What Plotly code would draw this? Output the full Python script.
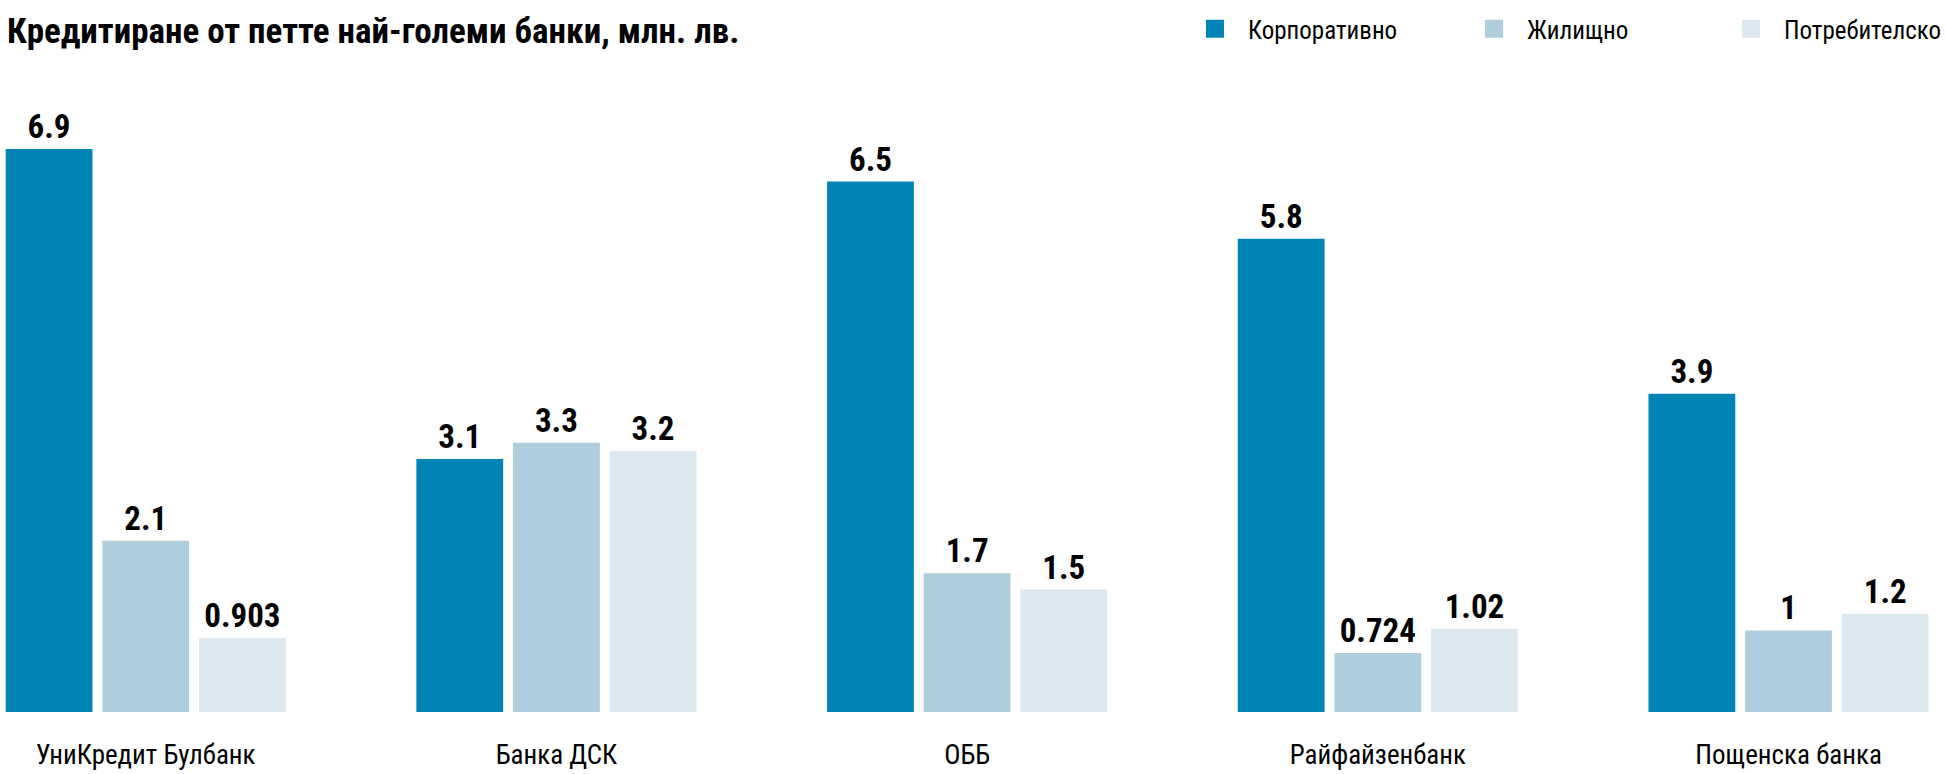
import plotly.graph_objects as go

banks = ["УниКредит Булбанк", "Банка ДСК", "ОББ", "Райфайзенбанк", "Пощенска банка"]
series_names = ["Корпоративно", "Жилищно", "Потребителско"]
corporate = [6.9, 3.1, 6.5, 5.8, 3.9]
housing = [2.1, 3.3, 1.7, 0.724, 1]
consumer = [0.903, 3.2, 1.5, 1.02, 1.2]
colors = ["#0084b5", "#aecddd", "#dbe8f0"]

FONT = "Roboto Condensed, Roboto, sans-serif"
W, H = 1945, 774

fig = go.Figure()
legend_ids = ["legend", "legend2", "legend3"]
for name, vals, col in zip(series_names, [corporate, housing, consumer], colors):
    fig.add_trace(go.Bar(
        x=banks, y=vals, name=name, marker=dict(color=col, line=dict(width=0)),
        text=[str(v) for v in vals], textposition="outside", cliponaxis=False,
        constraintext="none",
        textfont=dict(family=FONT, size=33, color="#000000", weight="bold"),
        showlegend=False,
    ))

# legend entries (square swatches)
for name, col, lg in zip(series_names, colors, legend_ids):
    fig.add_trace(go.Scatter(
        x=[None], y=[None], mode="markers", name=name, legend=lg, showlegend=True,
        marker=dict(symbol="square", size=16, color=col, line=dict(color=col, width=2)),
    ))

legend_x = [1182, 1461, 1718]
leg_common = dict(orientation="h", xref="container", yref="container", yanchor="middle",
                  xanchor="left", y=1 - 29 / H, bgcolor="rgba(0,0,0,0)",
                  itemwidth=56, itemsizing="trace",
                  font=dict(family=FONT, size=25, color="#000000"))

fig.update_layout(
    width=W, height=H,
    showlegend=True,
    margin=dict(l=0, r=0, t=100, b=62),
    paper_bgcolor="white", plot_bgcolor="white",
    barmode="group", bargap=0.294, bargroupgap=0.102,
    title=dict(text="<b>Кредитиране от петте най-големи банки, млн. лв.</b>",
               xref="container", yref="container", x=7 / W, xanchor="left",
               y=1 - 31 / H, yanchor="middle",
               font=dict(family=FONT, size=35, color="#000000")),
    legend=dict(x=legend_x[0] / W, **leg_common),
    legend2=dict(x=legend_x[1] / W, **leg_common),
    legend3=dict(x=legend_x[2] / W, **leg_common),
    xaxis=dict(range=[-0.3548, 4.381], showgrid=False, zeroline=False, showline=False,
               ticks="", ticklabelstandoff=24,
               tickfont=dict(family=FONT, size=27, color="#000000")),
    yaxis=dict(range=[0, 7.5], visible=False, showgrid=False, zeroline=False),
)

fig.write_html("out.html", config={"displayModeBar": False},
               post_script="document.body.style.margin='0';")
